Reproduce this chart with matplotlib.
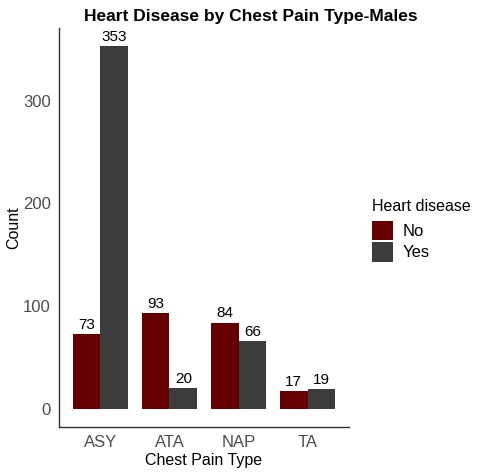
import numpy as np
import matplotlib
matplotlib.use("Agg")
from matplotlib import pyplot as plt
from matplotlib.patches import Patch

plt.rcParams["font.family"] = ["Liberation Sans", "DejaVu Sans"]

# data
pain_types = ["ASY", "ATA", "NAP", "TA"]
counts_no = [73, 93, 84, 17]
counts_yes = [353, 20, 66, 19]
groups = ["No", "Yes"]
colors = ["#660000", "#3c3c3c"]

fig = plt.figure(figsize=(4.84, 4.75), dpi=100)
ax = fig.add_axes([59 / 484, 48 / 475, 290 / 484, 399 / 475])

x = np.arange(len(pain_types))
width = 0.4

# bars for both groups
for i, (vals, col) in enumerate(zip([counts_no, counts_yes], colors)):
    pos = x + (i - 0.5) * width
    ax.bar(pos, vals, width=width, color=col, linewidth=0)
    for p, v in zip(pos, vals):
        ax.text(p, v + 2, str(v), ha="center", va="bottom", fontsize=11, color="black")

ymax = max(counts_no + counts_yes)
ax.set_ylim(-0.05 * ymax, 1.05 * ymax)
ax.set_xlim(-0.6, len(pain_types) - 0.4)
ax.set_xticks(x)
ax.set_xticklabels(pain_types)
ax.set_yticks([0, 100, 200, 300])
ax.tick_params(length=0, labelsize=12, labelcolor="#4d4d4d", pad=6)

for side in ["top", "right"]:
    ax.spines[side].set_visible(False)
for side in ["left", "bottom"]:
    ax.spines[side].set_color("#333333")
    ax.spines[side].set_linewidth(1.0)

ax.set_xlabel("Chest Pain Type", fontsize=11.5, labelpad=2)
ax.set_ylabel("Count", fontsize=11.5)
ax.yaxis.set_label_coords(-0.13, 0.5)

fig.text(251 / 484, 1 - 16 / 475, "Heart Disease by Chest Pain Type-Males",
         ha="center", va="center", fontsize=12.5, fontweight="bold")

handles = [Patch(facecolor=c, edgecolor="none") for c in colors]
leg = fig.legend(handles, groups, title="Heart disease", loc="upper left",
                 bbox_to_anchor=(360 / 484, 1 - 187 / 475), frameon=False,
                 borderpad=0.2, fontsize=12, title_fontsize=11.5,
                 handlelength=1.3, handleheight=1.45, labelspacing=0.1,
                 handletextpad=0.55)
leg._legend_box.align = "left"
leg._legend_box.sep = 5

fig.savefig("out.png", dpi=100)
